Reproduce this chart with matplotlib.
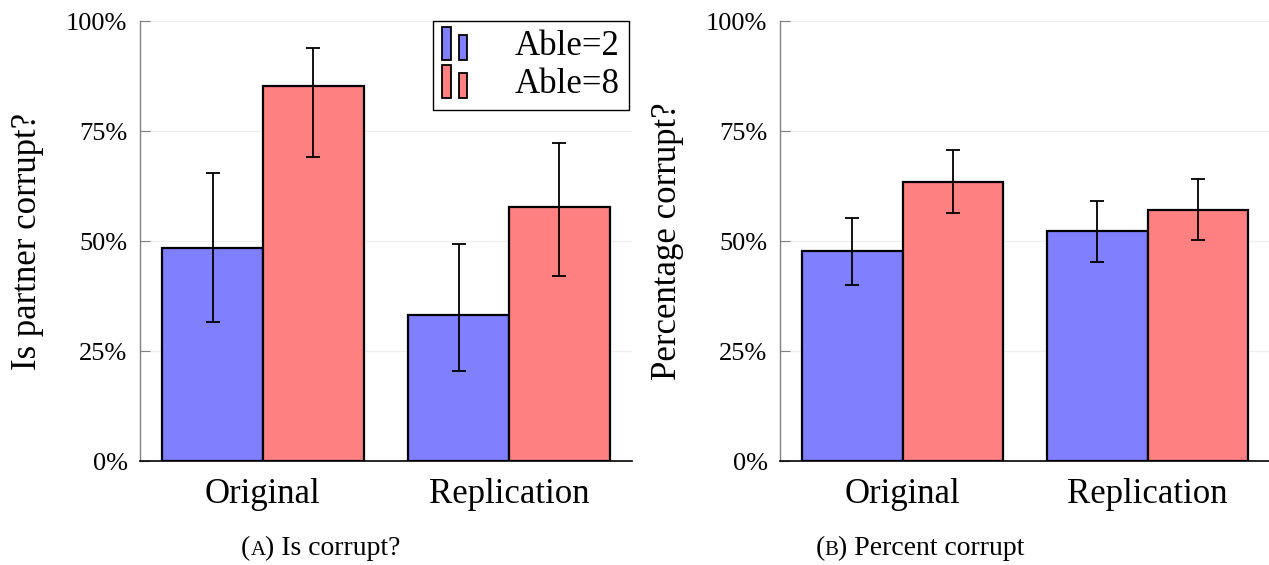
import numpy as np
import matplotlib.pyplot as plt
from matplotlib.patches import Rectangle
from matplotlib.legend_handler import HandlerBase
from matplotlib.offsetbox import TextArea, HPacker, AnchoredOffsetbox
from matplotlib.ticker import PercentFormatter

plt.rcParams['font.family'] = ['Liberation Serif', 'DejaVu Serif']

groups = ["Original", "Replication"]
labels = ["Able=2", "Able=8"]

# panel A: is partner corrupt? (percent)
a_able2 = [48.4, 33.2]
a_able2_lo = [31.6, 20.5]
a_able2_hi = [65.5, 49.3]
a_able8 = [85.2, 57.7]
a_able8_lo = [69.1, 42.0]
a_able8_hi = [93.9, 72.3]

# panel B: percentage corrupt
b_able2 = [47.7, 52.3]
b_able2_lo = [40.0, 45.2]
b_able2_hi = [55.2, 59.1]
b_able8 = [63.4, 57.0]
b_able8_lo = [56.4, 50.2]
b_able8_hi = [70.7, 64.1]

blue = '#8080ff'
red = '#ff8080'


class HandlerTwoBars(HandlerBase):
    # pgfplots style bar legend: two little bars
    def create_artists(self, legend, orig_handle, xdescent, ydescent,
                       width, height, fontsize, trans):
        fc = orig_handle.get_facecolor()
        h = height * 1.35
        y0 = -ydescent - 0.2 * height
        r1 = Rectangle((-xdescent, y0), width * 0.32, h, facecolor=fc,
                       edgecolor='black', lw=1.3, transform=trans)
        r2 = Rectangle((-xdescent + width * 0.6, y0), width * 0.3, h * 0.75,
                       facecolor=fc, edgecolor='black', lw=1.3, transform=trans)
        return [r1, r2]


def draw_panel(ax, v2, lo2, hi2, v8, lo8, hi8, ylabel):
    x = np.arange(len(groups))
    w = 0.41
    err2 = [np.array(v2) - np.array(lo2), np.array(hi2) - np.array(v2)]
    err8 = [np.array(v8) - np.array(lo8), np.array(hi8) - np.array(v8)]
    b2 = ax.bar(x - w / 2, v2, w, color=blue, edgecolor='black', lw=1.6, zorder=3, label=labels[0])
    b8 = ax.bar(x + w / 2, v8, w, color=red, edgecolor='black', lw=1.6, zorder=3, label=labels[1])
    ax.errorbar(x - w / 2, v2, yerr=err2, fmt='none', ecolor='black', elinewidth=1.3,
                capsize=5, capthick=1.3, zorder=4)
    ax.errorbar(x + w / 2, v8, yerr=err8, fmt='none', ecolor='black', elinewidth=1.3,
                capsize=5, capthick=1.3, zorder=4)
    ax.set_xlim(-0.5, 1.5)
    ax.set_ylim(0, 100)
    ax.set_yticks([0, 25, 50, 75, 100])
    ax.yaxis.set_major_formatter(PercentFormatter(decimals=0))
    ax.set_xticks(x)
    ax.set_xticklabels(groups, fontsize=25)
    ax.tick_params(axis='x', length=0, pad=12)
    ax.tick_params(axis='y', direction='in', length=7, color='#808080', labelsize=19, pad=9)
    ax.grid(axis='y', color='#eeeeee', lw=0.9, zorder=0)
    ax.set_axisbelow(True)
    for s in ['top', 'right']:
        ax.spines[s].set_visible(False)
    ax.spines['left'].set_color('#808080')
    ax.spines['left'].set_linewidth(1.0)
    ax.spines['bottom'].set_color('black')
    ax.spines['bottom'].set_linewidth(1.2)
    ax.set_ylabel(ylabel, fontsize=25)
    ax.yaxis.set_label_coords(-0.196, 0.5)
    return b2, b8


def caption(fig, letter, rest, xc):
    parts = [TextArea("(", textprops=dict(fontsize=20)),
             TextArea(letter, textprops=dict(fontsize=15)),
             TextArea(") " + rest, textprops=dict(fontsize=20))]
    box = HPacker(children=parts, align="baseline", pad=0, sep=0)
    anc = AnchoredOffsetbox(loc='center', child=box, frameon=False, pad=0,
                            bbox_to_anchor=(xc, 0.03), bbox_transform=fig.transFigure, borderpad=0)
    fig.add_artist(anc)


fig = plt.figure(figsize=(12.69, 5.65), dpi=100)
ax1 = fig.add_axes([140 / 1269, 104 / 565, 492 / 1269, 440 / 565])
ax2 = fig.add_axes([780 / 1269, 104 / 565, 490 / 1269, 440 / 565])

b2, b8 = draw_panel(ax1, a_able2, a_able2_lo, a_able2_hi, a_able8, a_able8_lo, a_able8_hi,
                    "Is partner corrupt?")
draw_panel(ax2, b_able2, b_able2_lo, b_able2_hi, b_able8, b_able8_lo, b_able8_hi,
           "Percentage corrupt?")

leg = ax1.legend(handles=[b2[0], b8[0]], labels=labels, loc='upper right',
                 bbox_to_anchor=(0.993, 1.0), fontsize=25, frameon=True, fancybox=False,
                 edgecolor='black', framealpha=1, borderaxespad=0, handlelength=0.8,
                 handletextpad=1.3, labelspacing=0.15, borderpad=0.25,
                 handler_map={Rectangle: HandlerTwoBars()})
leg.get_frame().set_linewidth(1.0)
leg.set_zorder(10)

caption(fig, "A", "Is corrupt?", 321 / 1269)
caption(fig, "B", "Percent corrupt", 920 / 1269)

fig.savefig("out.png", dpi=100)
